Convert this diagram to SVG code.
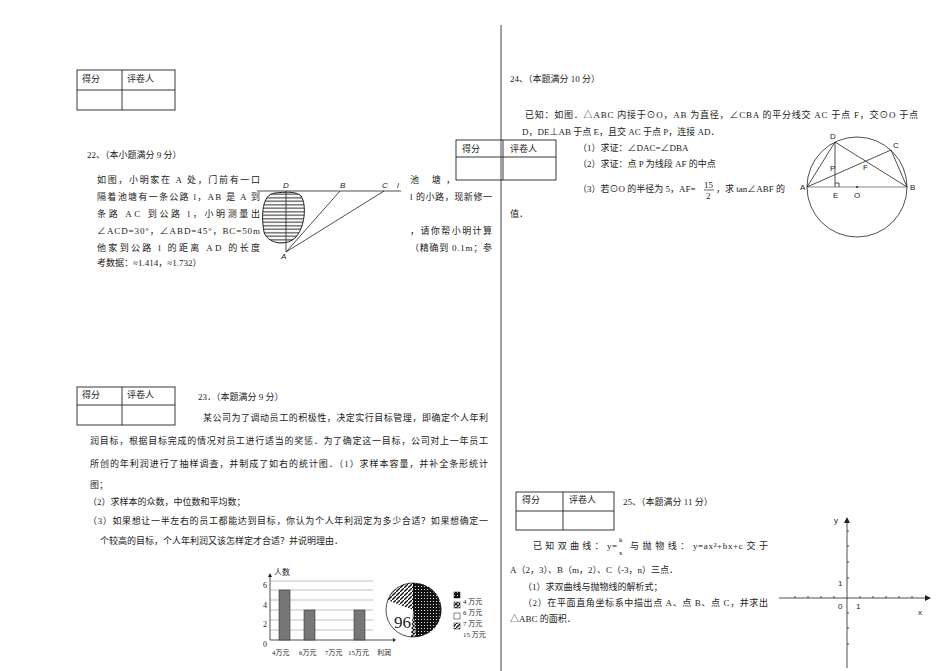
<svg xmlns="http://www.w3.org/2000/svg" width="950" height="671" viewBox="0 0 950 671">
<style>
text{font-family:"Liberation Serif","Noto Sans CJK SC",serif;font-size:9px;fill:#222}
.s{font-family:"Liberation Sans","Noto Sans CJK SC",sans-serif;font-size:8px}
.i{font-family:"Liberation Sans",sans-serif;font-style:italic;font-size:8px}
.ln{stroke:#222;stroke-width:0.8;fill:none}
.g{stroke:#999;stroke-width:0.6}
.tb{fill:none;stroke:#222;stroke-width:0.9}
</style>
<defs>
<pattern id="hz" width="4" height="3.5" patternUnits="userSpaceOnUse"><rect width="4" height="3.5" fill="#fff"/><line x1="0" y1="1.75" x2="4" y2="1.75" stroke="#222" stroke-width="1"/></pattern>
<pattern id="dt" width="3" height="3" patternUnits="userSpaceOnUse"><rect width="3" height="3" fill="#111"/><circle cx="1.5" cy="1.5" r="0.6" fill="#fff"/></pattern>
<pattern id="dg" width="4" height="4" patternUnits="userSpaceOnUse"><rect width="4" height="4" fill="#fff"/><path d="M0 4L4 0" stroke="#111" stroke-width="1.3"/></pattern>
<pattern id="ck" width="4" height="4" patternUnits="userSpaceOnUse"><rect width="4" height="4" fill="#fff"/><path d="M0 0L4 4M0 4L4 0" stroke="#111" stroke-width="1.2"/></pattern>
</defs>
<line x1="501" y1="25" x2="501" y2="671" stroke="#444" stroke-width="1"/>

<g id="table1"><rect x="77" y="70" width="98" height="40" class="tb"/><line x1="122" y1="70" x2="122" y2="110" class="tb"/><line x1="77" y1="90" x2="175" y2="90" class="tb"/><text x="82" y="82">得分</text><text x="127" y="82">评卷人</text></g>
<g id="table2"><rect x="456" y="140" width="100" height="40" class="tb"/><line x1="503" y1="140" x2="503" y2="180" class="tb"/><line x1="456" y1="157" x2="556" y2="157" class="tb"/><text x="462" y="152">得分</text><text x="510" y="152">评卷人</text></g>
<g id="table3"><rect x="77" y="387" width="98" height="38" class="tb"/><line x1="122" y1="387" x2="122" y2="425" class="tb"/><line x1="77" y1="405" x2="175" y2="405" class="tb"/><text x="82" y="398">得分</text><text x="127" y="398">评卷人</text></g>
<g id="table4"><rect x="516" y="492" width="98" height="38" class="tb"/><line x1="563" y1="492" x2="563" y2="530" class="tb"/><line x1="516" y1="511" x2="614" y2="511" class="tb"/><text x="522" y="503">得分</text><text x="569" y="503">评卷人</text></g>

<g id="q22">
<text x="87" y="158">22、（本小题满分 9 分）</text>
<text x="97" y="183" textLength="163">如图，小明家在 A 处，门前有一口</text>
<text x="97" y="200" textLength="163">隔着池塘有一条公路 l，AB 是 A 到</text>
<text x="97" y="217" textLength="163">条路 AC 到公路 l，小明测量出</text>
<text x="97" y="234" textLength="163">∠ACD=30°，∠ABD=45°，BC=50m</text>
<text x="97" y="251" textLength="163">他家到公路 l 的距离 AD 的长度</text>
<text x="97" y="266">考数据：≈1.414，≈1.732）</text>
<text x="410" y="183" textLength="45">池 塘，</text>
<text x="410" y="200" textLength="82">l 的小路，现新修一</text>
<text x="410" y="234" textLength="82">，请你帮小明计算</text>
<text x="410" y="251" textLength="82">（精确到 0.1m；参</text>
<path d="M275 193 C262 194 261 215 264 232 C267 243 285 247 295 238 C305 228 307 205 301 196 C296 191 285 192 275 193Z" fill="url(#hz)" stroke="#222" stroke-width="1"/>
<line x1="257" y1="191" x2="401" y2="191" class="ln"/>
<line x1="286" y1="191" x2="286" y2="252" class="ln"/>
<line x1="286" y1="252" x2="340" y2="191" class="ln"/>
<line x1="286" y1="252" x2="384" y2="191" class="ln"/>
<text x="283" y="188" class="i">D</text><text x="340" y="188" class="i">B</text><text x="382" y="188" class="i">C</text><text x="397" y="188" class="i">l</text><text x="281" y="259" class="i">A</text>
</g>

<g id="q24">
<text x="510" y="82">24、（本题满分 10 分）</text>
<text x="525" y="118" textLength="393">已知：如图．△ABC 内接于⊙O，AB 为直径，∠CBA 的平分线交 AC 于点 F，交⊙O 于点</text>
<text x="522" y="135">D，DE⊥AB 于点 E，且交 AC 于点 P，连接 AD．</text>
<text x="578" y="151">（1）求证：∠DAC=∠DBA</text>
<text x="578" y="167">（2）求证：点 P 为线段 AF 的中点</text>
<text x="578" y="192">（3）若⊙O 的半径为 5，AF=</text>
<text x="704" y="188" style="font-size:9px">15</text><line x1="704" y1="190" x2="714" y2="190" stroke="#222" stroke-width="0.7"/><text x="706" y="199">2</text>
<text x="716" y="192">，求 tan∠ABF 的</text>
<text x="510" y="217">值．</text>
<circle cx="857" cy="187" r="50" class="ln" stroke-width="1"/>
<line x1="807" y1="187" x2="907" y2="187" stroke="#888" stroke-width="1"/>
<path d="M807 187L835 142L907 187L891 150L807 187M835 142L835 187M835 183h4v4" class="ln"/>
<circle cx="857" cy="187" r="1" fill="#222"/>
<text x="830" y="139" class="s">D</text><text x="893" y="148" class="s">C</text><text x="830" y="171" class="s">P</text><text x="863" y="170" class="s">F</text><text x="800" y="190" class="s">A</text><text x="910" y="190" class="s">B</text><text x="833" y="198" class="s">E</text><text x="854" y="198" class="s">O</text>
</g>

<g id="q23">
<text x="198" y="400">23．（本题满分 9 分）</text>
<text x="203" y="421" textLength="285">某公司为了调动员工的积极性，决定实行目标管理，即确定个人年利</text>
<text x="90" y="444" textLength="398">润目标，根据目标完成的情况对员工进行适当的奖惩．为了确定这一目标，公司对上一年员工</text>
<text x="90" y="467" textLength="398">所创的年利润进行了抽样调查，并制成了如右的统计图．（1）求样本容量，并补全条形统计</text>
<text x="90" y="488">图；</text>
<text x="88" y="505">（2）求样本的众数，中位数和平均数；</text>
<text x="88" y="524" textLength="400">（3）如果想让一半左右的员工都能达到目标，你认为个人年利润定为多少合适？如果想确定一</text>
<text x="100" y="544">个较高的目标，个人年利润又该怎样定才合适？并说明理由．</text>
</g>

<g id="chart">
<g class="g"><line x1="270" y1="581" x2="373" y2="581"/><line x1="270" y1="590" x2="373" y2="590"/><line x1="270" y1="600" x2="373" y2="600"/><line x1="270" y1="610" x2="373" y2="610"/><line x1="270" y1="620" x2="373" y2="620"/><line x1="270" y1="630" x2="373" y2="630"/></g>
<line x1="270" y1="640" x2="393" y2="640" class="ln"/><path d="M393 638L396 640L393 642Z" fill="#222"/>
<line x1="270" y1="640" x2="270" y2="576" class="ln"/><path d="M268 577L270 573L272 577Z" fill="#222"/>
<rect x="279" y="590" width="11" height="50" fill="#777" stroke="#333" stroke-width="0.6"/>
<rect x="304" y="610" width="11" height="30" fill="#777" stroke="#333" stroke-width="0.6"/>
<rect x="354" y="610" width="11" height="30" fill="#777" stroke="#333" stroke-width="0.6"/>
<text x="274" y="575" style="font-size:8px">人数</text>
<text x="263" y="588" style="font-size:8px">6</text><text x="263" y="608" style="font-size:8px">4</text><text x="263" y="627" style="font-size:8px">2</text><text x="263" y="647" style="font-size:8px">0</text>
<text x="272" y="655" style="font-size:7px">4万元</text><text x="299" y="655" style="font-size:7px">6万元</text><text x="325" y="655" style="font-size:7px">7万元</text><text x="348" y="655" style="font-size:7px">15万元</text><text x="377" y="655" style="font-size:7px">利润</text>
<path d="M413 610L413 583A27 27 0 0 1 416 637Z" fill="url(#dt)"/>
<path d="M413 610L416 637A27 27 0 0 1 411 637Z" fill="url(#ck)"/>
<path d="M413 610L410 637A27 27 0 0 1 387 600Z" fill="#fff"/>
<path d="M413 610L387 600A27 27 0 0 1 413 583Z" fill="url(#dg)"/>
<circle cx="413" cy="610" r="27" class="ln"/>
<text x="394" y="628" style="font-size:17px">96</text>
<rect x="454" y="592" width="6" height="6" fill="url(#dt)" stroke="#111" stroke-width="0.5"/>
<rect x="454" y="602" width="6" height="6" fill="url(#ck)" stroke="#111" stroke-width="0.5"/>
<rect x="454" y="613" width="6" height="6" fill="#fff" stroke="#111" stroke-width="0.5"/>
<rect x="454" y="623" width="6" height="6" fill="url(#dg)" stroke="#111" stroke-width="0.5"/>
<text x="463" y="604" style="font-size:7px">4 万元</text><text x="463" y="615" style="font-size:7px">6 万元</text><text x="463" y="626" style="font-size:7px">7 万元</text><text x="463" y="637" style="font-size:7px">15 万元</text>
</g>

<g id="q25">
<text x="623" y="505">25、（本题满分 11 分）</text>
<text x="533" y="549" textLength="84">已 知 双 曲 线 ： y=</text>
<text x="619" y="542" style="font-size:7px">k</text><text x="619" y="555" style="font-size:7px">x</text>
<text x="630" y="549" textLength="138">与 抛 物 线 ： y=ax²+bx+c 交 于</text>
<text x="510" y="573">A（2，3）、B（m，2）、C（-3，n）三点．</text>
<text x="523" y="590">（1）求双曲线与抛物线的解析式；</text>
<text x="523" y="606" textLength="245">（2）在平面直角坐标系中描出点 A、点 B、点 C，并求出</text>
<text x="510" y="622">△ABC 的面积．</text>
</g>

<g id="axes">
<line x1="779" y1="598" x2="925" y2="598" class="ln"/><path d="M925 595L931 598L925 601Z" fill="#222"/>
<line x1="847" y1="668" x2="847" y2="522" class="ln"/><path d="M844 523L847 517L850 523Z" fill="#222"/>
<path d="M795 596v2M808 596v2M821 596v2M834 596v2M860 596v2M873 596v2M886 596v2M899 596v2M912 596v2M847 531h2M847 546h2M847 562h2M847 578h2M847 613h2M847 628h2M847 644h2" stroke="#222" stroke-width="0.8"/>
<text x="834" y="523" class="s">y</text><text x="918" y="615" class="s">x</text><text x="838" y="609" class="s">0</text><text x="856" y="609" class="s">1</text><text x="838" y="586" class="s">1</text>
</g>
</svg>
